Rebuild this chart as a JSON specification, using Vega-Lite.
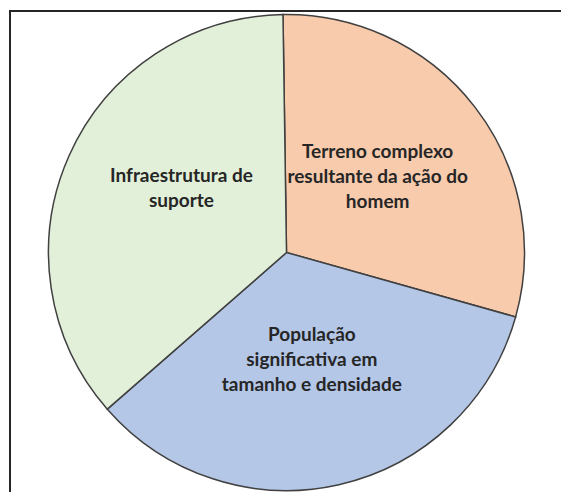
{
  "$schema": "https://vega.github.io/schema/vega-lite/v6.json",
  "autosize": {"type": "fit", "contains": "padding"},
  "width": 561,
  "height": 492,
  "padding": {"left": 10, "top": 11, "right": -2, "bottom": -2},
  "background": "white",
  "view": {"stroke": "#262626", "strokeWidth": 2, "fill": "white"},
  "data": {
    "values": [
      {"ordem": 1, "rotulo": "Terreno complexo\nresultante da ação do\nhomem", "valor": 29.6},
      {"ordem": 2, "rotulo": "População\nsignificativa em\ntamanho e densidade", "valor": 34.2},
      {"ordem": 3, "rotulo": "Infraestrutura de\nsuporte", "valor": 36.2}
    ]
  },
  "encoding": {
    "theta": {"field": "valor", "type": "quantitative", "stack": true, "scale": {"range": [-0.0148, 6.2684]}},
    "order": {"field": "ordem", "type": "quantitative", "sort": "ascending"}
  },
  "layer": [
    {
      "mark": {"type": "arc", "outerRadius": 238, "stroke": "#404040", "strokeWidth": 1.5},
      "encoding": {
        "color": {
          "field": "rotulo",
          "type": "nominal",
          "legend": null,
          "scale": {
            "domain": ["Terreno complexo\nresultante da ação do\nhomem", "População\nsignificativa em\ntamanho e densidade", "Infraestrutura de\nsuporte"],
            "range": ["#F8CBAD", "#B4C7E7", "#E2F0D9"]
          }
        }
      }
    },
    {
      "mark": {"type": "text", "radius": 115, "dy": -30, "font": "Lato", "fontWeight": "bold", "fontSize": 19, "lineHeight": 25, "lineBreak": "\n", "color": "#262626", "align": "center", "baseline": "middle"},
      "encoding": {
        "text": {"field": "rotulo", "type": "nominal"}
      }
    }
  ]
}
